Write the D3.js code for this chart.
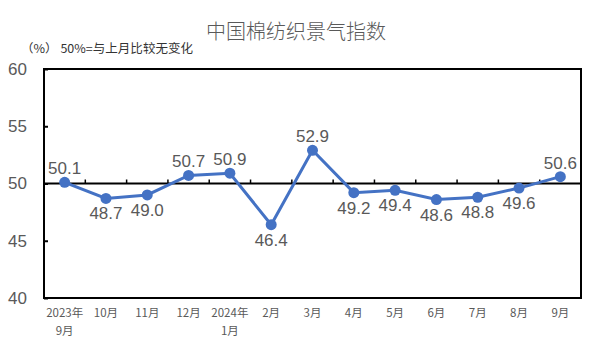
<!DOCTYPE html>
<html><head><meta charset="utf-8">
<script src="https://cdn.jsdelivr.net/npm/d3@7"></script>
<style>body{margin:0;background:#fff;}svg{display:block;font-family:"Noto Sans CJK SC","DejaVu Sans",sans-serif;}</style>
</head><body><svg id="c" width="591" height="354"></svg>
<script>
const categories = [["2023年","9月"],["10月"],["11月"],["12月"],["2024年","1月"],["2月"],["3月"],["4月"],["5月"],["6月"],["7月"],["8月"],["9月"]];
const values = [50.1,48.7,49.0,50.7,50.9,46.4,52.9,49.2,49.4,48.6,48.8,49.6,50.6];
const labelPos = ["up","down","down","up","up","down","up","down","down","down","down","down","up"];
const yTicks = [40,45,50,55,60];

const svg = d3.select("#c");
const L=44,R=581,T=69,B=298;
const x = d3.scaleBand().domain(d3.range(categories.length)).range([L,R]);
const y = d3.scaleLinear().domain([40,60]).range([B,T]);
const col="#4472C4", txt="#595959";

svg.append("text").attr("x",296).attr("y",39).attr("text-anchor","middle").attr("font-size",20).attr("font-weight",300).attr("fill",txt).text("中国棉纺织景气指数");
svg.append("text").attr("x",21).attr("y",53).attr("font-size",12).attr("fill","#333").attr("textLength",172).attr("lengthAdjust","spacingAndGlyphs").text("（%）  50%=与上月比较无变化");

// frame
svg.append("rect").attr("x",L).attr("y",T).attr("width",R-L).attr("height",B-T).attr("fill","none").attr("stroke","#000").attr("stroke-width",2);

// y axis ticks inside
const yAxis = d3.axisLeft(y).tickValues(yTicks).tickSize(-4).tickPadding(17);
const gy = svg.append("g").attr("transform",`translate(${L},0)`).call(yAxis);
gy.select(".domain").remove();
gy.selectAll("line").attr("stroke","#000").attr("stroke-width",2);
gy.selectAll("text").attr("font-size",17).attr("fill",txt).attr("font-family","Liberation Sans, Arial, sans-serif");

// 50 line
svg.append("line").attr("x1",L).attr("x2",R).attr("y1",y(50)).attr("y2",y(50)).attr("stroke","#000").attr("stroke-width",2);
// category boundary ticks on 50 line
const bounds = d3.range(1,categories.length).map(i=>x(i));
svg.selectAll(".bt").data(bounds).join("line").attr("x1",d=>d).attr("x2",d=>d).attr("y1",y(50)).attr("y2",y(50)-4).attr("stroke","#000").attr("stroke-width",1.5);

// x labels
const xl = svg.append("g");
categories.forEach((c,i)=>{
  const t = xl.append("text").attr("x",x(i)+x.bandwidth()/2).attr("y",317).attr("text-anchor","middle").attr("font-size",11.5).attr("fill",txt);
  c.forEach((s,j)=>t.append("tspan").attr("x",x(i)+x.bandwidth()/2).attr("dy",j?18:0).text(s));
});

// line
const cx = i=>x(i)+x.bandwidth()/2;
svg.append("path").datum(values).attr("fill","none").attr("stroke",col).attr("stroke-width",3)
  .attr("d",d3.line().x((d,i)=>cx(i)).y(d=>y(d)));
svg.selectAll(".pt").data(values).join("circle").attr("cx",(d,i)=>cx(i)).attr("cy",d=>y(d)).attr("r",5.5).attr("fill",col);
svg.selectAll(".lb").data(values).join("text").attr("x",(d,i)=>cx(i)).attr("y",(d,i)=>labelPos[i]==="up"?y(d)-8:y(d)+21)
  .attr("text-anchor","middle").attr("font-size",17).attr("fill",txt).attr("font-family","Liberation Sans, Arial, sans-serif").text(d=>d.toFixed(1));
</script></body></html>
